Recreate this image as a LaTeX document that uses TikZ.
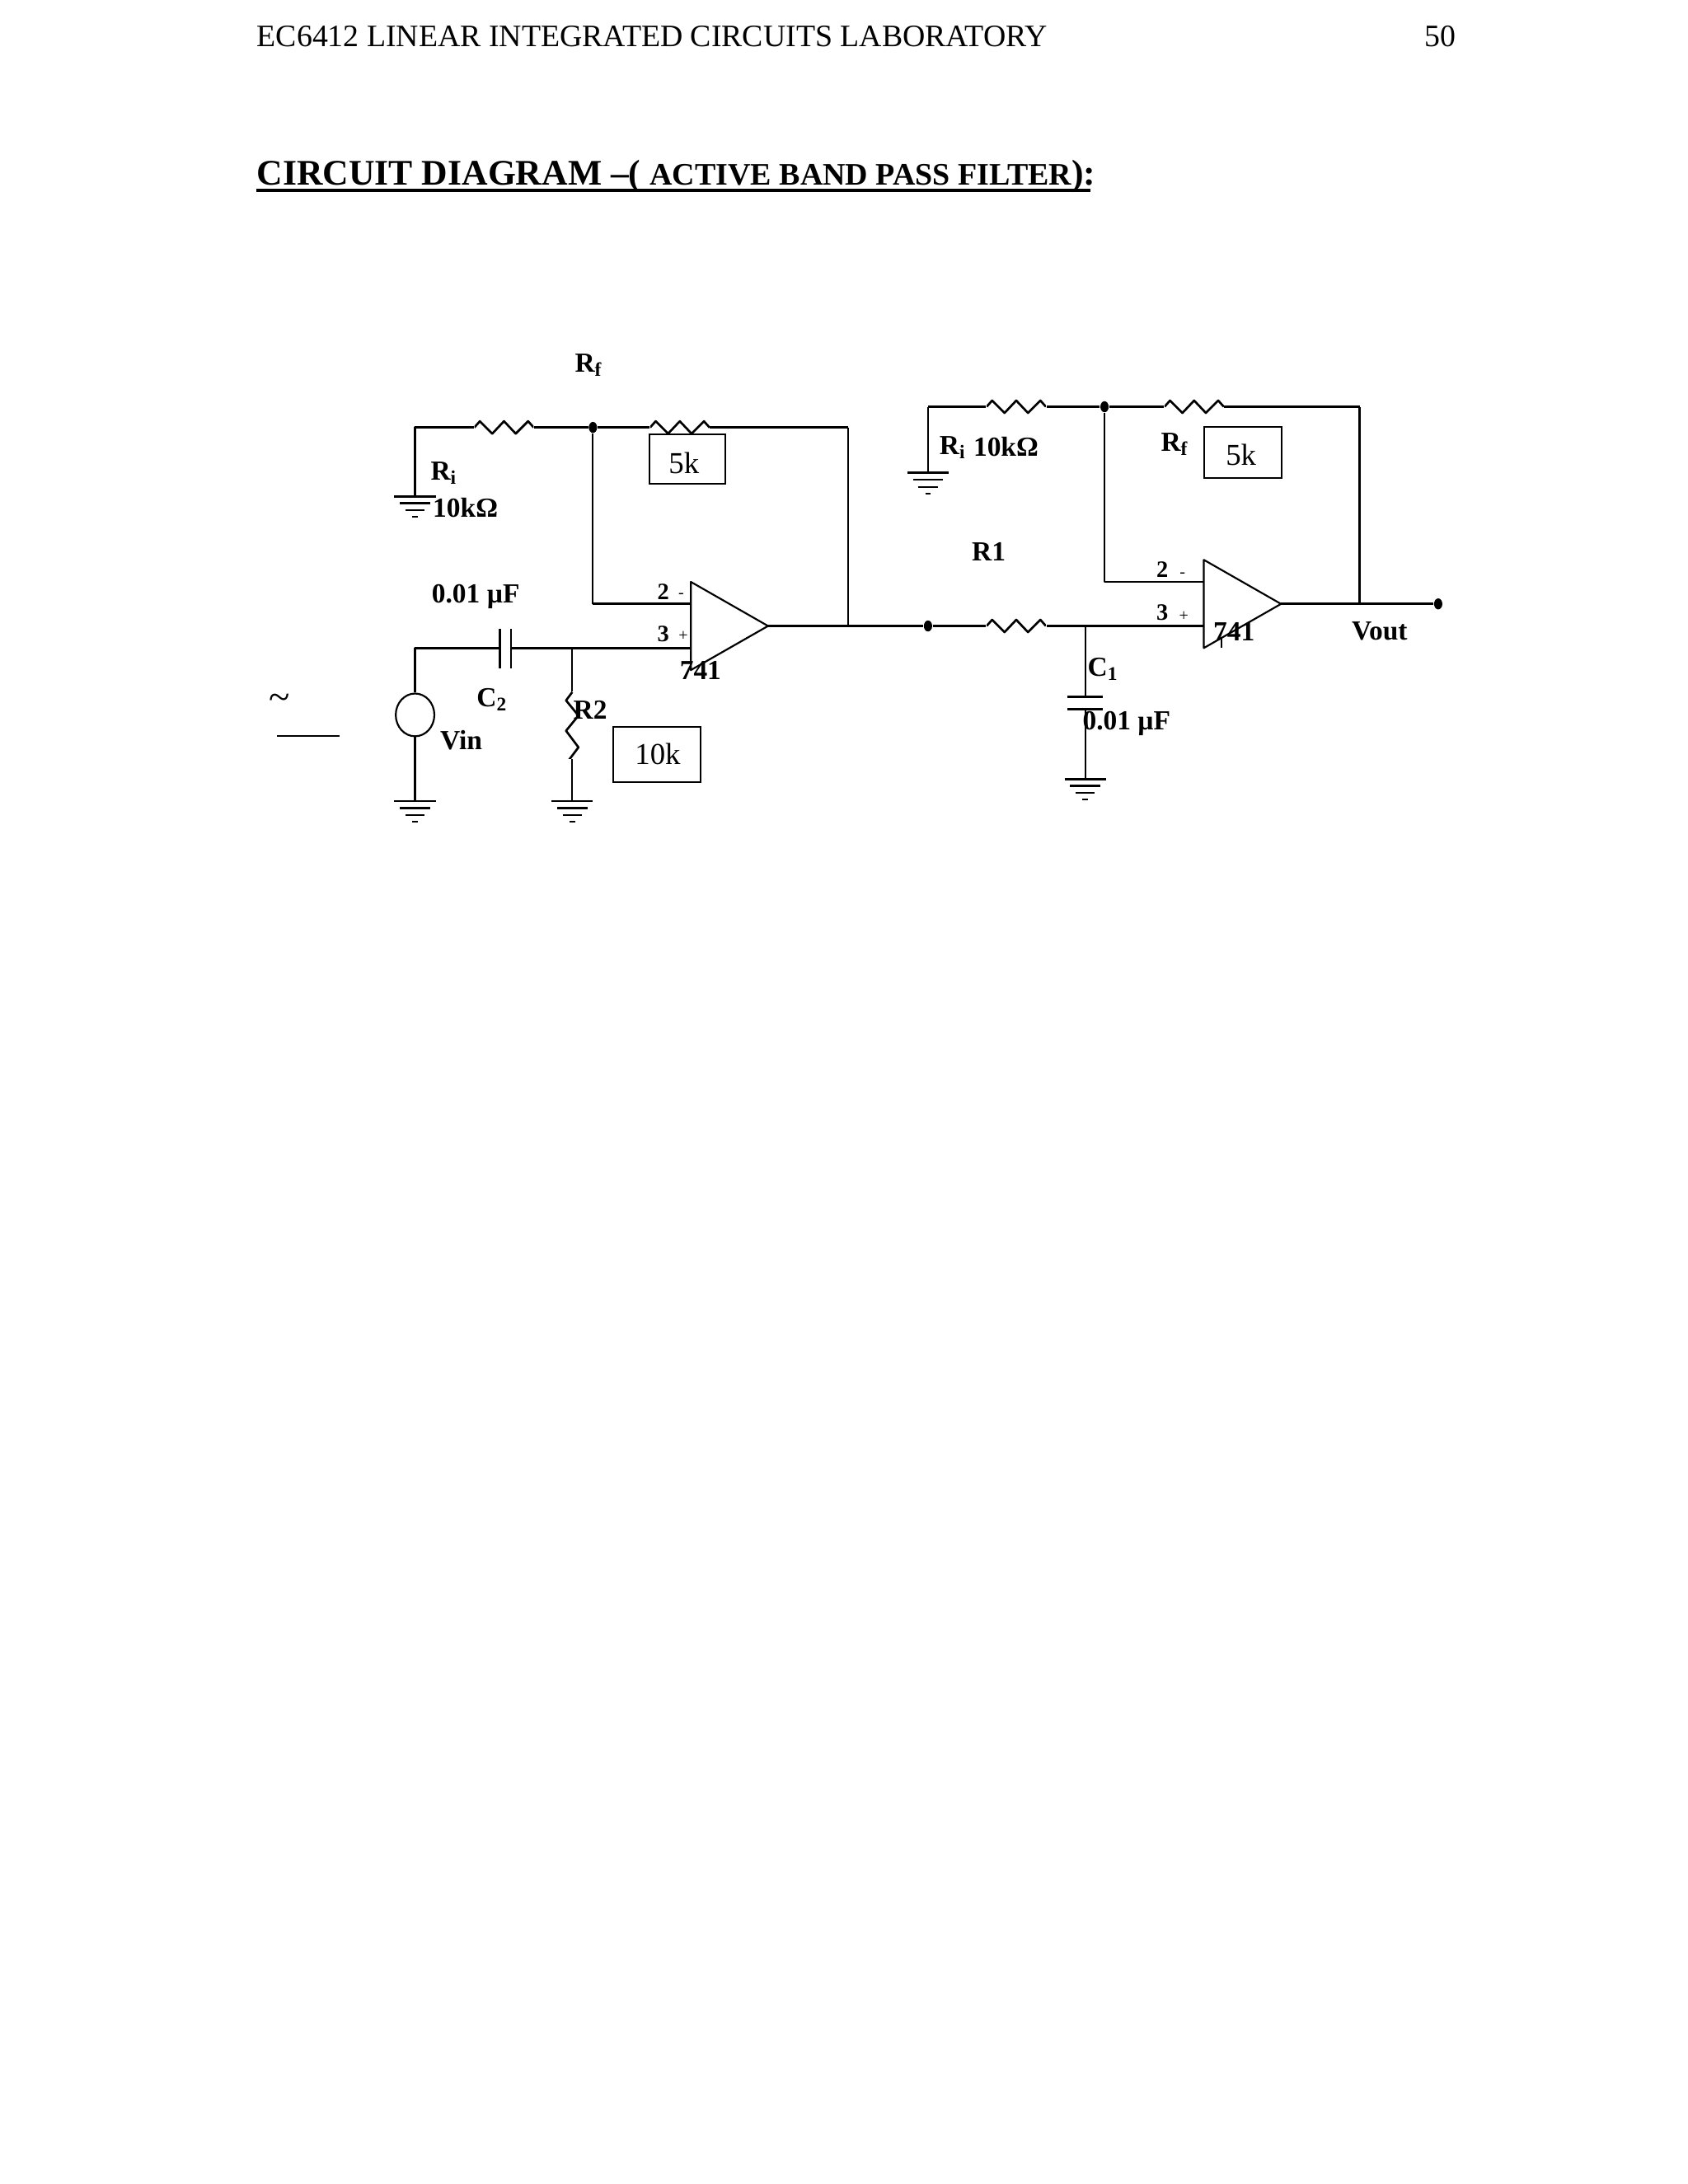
\documentclass[tikz,border=0pt]{standalone}
\usepackage{fontspec}
\setmainfont{Liberation Serif}
\usetikzlibrary{shapes.geometric}

\newcommand{\szb}{\fontsize{10}{12}\selectfont\bfseries}
\newcommand{\szn}{\fontsize{11}{13}\selectfont}

\tikzset{
    wire/.style={line width=0.8pt,line join=round},
    thinwire/.style={line width=0.65pt,line join=round},
    lbl/.style={inner sep=0pt,font=\szb},
    pin/.style={inner sep=0pt,font=\fontsize{8.5}{10}\selectfont\bfseries},
    sign/.style={inner sep=0pt,font=\fontsize{6}{7}\selectfont},
    valbox/.style={rectangle,draw,line width=0.6pt,inner sep=0pt,font=\szn},
    dot/.style={ellipse,fill=black,inner sep=0pt,minimum width=3pt,minimum height=4pt},
    reshor/.style={inner sep=0pt,minimum width=21.5pt,minimum height=7pt,path picture={
        \draw[wire] (path picture bounding box.center) ++(-21.5,0) -- ++(4,-4.5) -- ++(9,9) -- ++(8.5,-9) -- ++(8.5,9) -- ++(9,-9) -- ++(4,4.5);}},
    resver/.style={inner sep=0pt,minimum width=7pt,minimum height=24pt,path picture={
        \draw[wire] (path picture bounding box.center) ++(0,-24) -- ++(-4.5,6) -- ++(9,11) -- ++(-9,11) -- ++(9,12) -- ++(-9,12) -- ++(4.5,6);}},
    pics/earth/.style={code={
        \draw[line width=0.8pt] (-15,0) -- (15,0);
        \draw[line width=0.7pt] (-11,5) -- (11,5);
        \draw[line width=0.6pt] (-7,10) -- (7,10);
        \draw[line width=0.6pt] (-2,15) -- (2,15);}}
}

\begin{document}
\begin{tikzpicture}[x=0.5pt,y=-0.5pt]
    \path[use as bounding box] (0,0) rectangle (1224,1584);

    % page text
    \node[anchor=base west,inner sep=0pt,font=\fontsize{11.3}{14}\selectfont] (head) at (186,33.5) {EC6412 LINEAR INTEGRATED CIRCUITS LABORATORY};
    \node[anchor=base east,inner sep=0pt,font=\fontsize{11.3}{14}\selectfont] (pageno) at (1056,33.5) {50};
    \node[anchor=base west,inner sep=0pt,font=\bfseries] (title) at (186,134) {\fontsize{13.05}{16}\selectfont CIRCUIT DIAGRAM --( \fontsize{11.35}{14}\selectfont ACTIVE BAND PASS FILTER\fontsize{13.05}{16}\selectfont ):};
    \coordinate (ula) at (186,138);
    \coordinate (ulb) at (791,138);
    \draw[line width=1pt] (ula) -- (ulb);

    % first stage
    \coordinate (ac) at (301,310);
    \coordinate (ad) at (301,360);
    \coordinate (ae) at (615,310);
    \coordinate (af) at (615,454);
    \coordinate (ag) at (430,438);
    \coordinate (ah) at (501,438);
    \coordinate (ak) at (301,470);
    \coordinate (am) at (501,470);
    \coordinate (an) at (415,470);
    \coordinate (ap) at (301,581);
    \coordinate (aq) at (415,581);
    \coordinate (oaa) at (501,422);
    \coordinate (oab) at (501,486);
    \coordinate (oac) at (557,454);
    \coordinate (ca) at (362.5,470);
    \coordinate (cb) at (370.5,470);
    \coordinate (caa) at (362.5,456);
    \coordinate (cab) at (362.5,485);
    \coordinate (cba) at (370.5,456);
    \coordinate (cbb) at (370.5,485);

    \node[dot] (ja) at (430,310) {};
    \node[reshor] (ria) at (365.5,310) {};
    \node[reshor] (rfa) at (493,310) {};
    \node[resver] (rb) at (415,526) {};
    \node[ellipse,draw,thinwire,inner sep=0pt,minimum width=14pt,minimum height=15.5pt] (vin) at (301,518.5) {};

    \draw[wire] (ad) -- (ac) -- (ria.west);
    \draw[wire] (ria.east) -- (ja) -- (rfa.west);
    \draw[wire] (rfa.east) -- (ae);
    \draw[thinwire] (ae) -- (af);
    \draw[thinwire] (ja) -- (ag);
    \draw[wire] (ag) -- (ah);
    \draw[thinwire] (oaa) -- (oab) -- (oac) -- cycle;
    \draw[wire] (vin.north) -- (ak) -- (ca);
    \draw[wire] (cb) -- (am);
    \draw[thinwire] (caa) -- (cab);
    \draw[thinwire] (cba) -- (cbb);
    \draw[thinwire] (an) -- (rb.north);
    \draw[thinwire] (rb.south) -- (aq);
    \draw[thinwire] (vin.south) -- (ap);
    \pic at (ad) {earth};
    \pic at (ap) {earth};
    \pic at (aq) {earth};

    \node[lbl] (lrfa) at (427,265) {R\textsubscript{f}};
    \node[lbl] (lria) at (322,343) {R\textsubscript{i}};
    \node[lbl] (lrva) at (337.5,368) {10kΩ};
    \node[valbox,minimum width=27.5pt,minimum height=18pt] (bfa) at (498.5,333) {};
    \node[inner sep=0pt,font=\szn] (tfa) at (496,336) {5k};
    \node[lbl] (lca) at (345,433) {0.01 µF};
    \node[lbl] (lcb) at (357,507.5) {C\textsubscript{2}};
    \node[lbl] (lvin) at (334.5,537) {Vin};
    \node[lbl] (lrb) at (428,515) {R2};
    \node[valbox,minimum width=31.5pt,minimum height=20pt] (bva) at (476.5,547) {};
    \node[inner sep=0pt,font=\szn] (tva) at (477,547) {10k};
    \node[pin] (pta) at (481,429.5) {2};
    \node[pin] (pna) at (481,460) {3};
    \node[sign] (sma) at (494,432) {-};
    \node[sign] (spa) at (495.5,461.5) {+};
    \node[lbl] (lua) at (508,486.5) {741};

    % stray mark
    \node[inner sep=0pt,font=\fontsize{14}{16}\selectfont] (tilde) at (203,509) {\textasciitilde};
    \coordinate (bara) at (201,534);
    \coordinate (barb) at (246,534);
    \draw[line width=0.6pt] (bara) -- (barb);

    % second stage
    \coordinate (bc) at (673,295);
    \coordinate (bd) at (673,343);
    \coordinate (be) at (986,295);
    \coordinate (bf) at (986,438);
    \coordinate (bg) at (801,422);
    \coordinate (bh) at (873,422);
    \coordinate (bk) at (787,454);
    \coordinate (bm) at (873,454);
    \coordinate (bp) at (787,505.5);
    \coordinate (bq) at (787,514.5);
    \coordinate (br) at (787,565);
    \coordinate (oba) at (873,406);
    \coordinate (obb) at (873,470);
    \coordinate (obc) at (929,438);
    \coordinate (paa) at (774,505.5);
    \coordinate (pab) at (800,505.5);
    \coordinate (pba) at (774,514.5);
    \coordinate (pbb) at (800,514.5);
    \coordinate (tka) at (886,463);
    \coordinate (tkb) at (886,470);

    \node[dot] (jb) at (801,295) {};
    \node[dot] (jc) at (673,454) {};
    \node[dot] (vo) at (1043,438) {};
    \node[reshor] (rib) at (737,295) {};
    \node[reshor] (rfb) at (866,295) {};
    \node[reshor] (rc) at (737,454) {};

    \draw[wire] (oac) -- (af) -- (jc) -- (rc.west);
    \draw[wire] (rc.east) -- (bk) -- (bm);
    \draw[thinwire] (bd) -- (bc);
    \draw[wire] (bc) -- (rib.west);
    \draw[wire] (rib.east) -- (jb) -- (rfb.west);
    \draw[wire] (rfb.east) -- (be);
    \draw[thinwire] (be) -- (bf);
    \draw[thinwire] (jb) -- (bg) -- (bh);
    \draw[thinwire] (oba) -- (obb) -- (obc) -- cycle;
    \draw[wire] (obc) -- (vo);
    \draw[thinwire] (bk) -- (bp);
    \draw[thinwire] (bq) -- (br);
    \draw[wire] (paa) -- (pab);
    \draw[wire] (pba) -- (pbb);
    \draw[thinwire] (tka) -- (tkb);
    \pic at (bd) {earth};
    \pic at (br) {earth};

    \node[lbl] (lrib) at (691,324.5) {R\textsubscript{i}};
    \node[lbl] (lrvb) at (729.5,324) {10kΩ};
    \node[lbl] (lrfb) at (852,322) {R\textsubscript{f}};
    \node[valbox,minimum width=28pt,minimum height=18.5pt] (bfb) at (901.5,328) {};
    \node[inner sep=0pt,font=\szn] (tfb) at (900,330) {5k};
    \node[lbl] (lrc) at (717,400) {R1};
    \node[pin] (ptb) at (843,413) {2};
    \node[pin] (pnb) at (843,444) {3};
    \node[sign] (smb) at (857.5,417) {-};
    \node[sign] (spb) at (858.5,447) {+};
    \node[lbl] (lub) at (895,458) {741};
    \node[lbl] (lvo) at (1000.5,457.5) {Vout};
    \node[lbl] (lcc) at (800,485.5) {C\textsubscript{1}};
    \node[lbl] (lcd) at (817,525) {0.01 µF};
\end{tikzpicture}
\end{document}
